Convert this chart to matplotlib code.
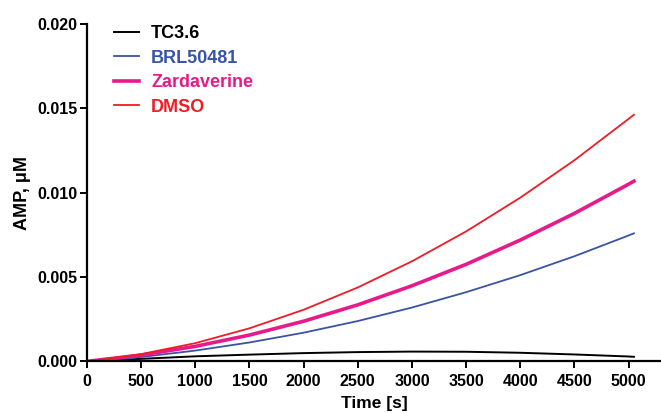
import numpy as np
import matplotlib.pyplot as plt

plt.rcParams['font.family'] = ['Liberation Sans', 'DejaVu Sans']
plt.rcParams['font.weight'] = 'bold'

# AMP production over time, one trace per compound
time_s = [0, 500, 1000, 1500, 2000, 2500, 3000, 3500, 4000, 4500, 5000, 5050]
tc36 = [0.0, 0.00015, 0.00030, 0.00040, 0.00049, 0.00055, 0.00058, 0.00057, 0.00051, 0.00041, 0.00029, 0.00027]
brl50481 = [0.0, 0.00026, 0.00064, 0.00112, 0.00170, 0.00239, 0.00319, 0.00410, 0.00511, 0.00623, 0.00746, 0.00759]
zardaverine = [0.0, 0.00037, 0.00089, 0.00156, 0.00238, 0.00335, 0.00448, 0.00575, 0.00719, 0.00877, 0.01050, 0.01068]
dmso = [0.0, 0.00043, 0.00108, 0.00196, 0.00306, 0.00438, 0.00593, 0.00770, 0.00970, 0.01192, 0.01437, 0.01462]

series = [
    ('TC3.6', tc36, 'black', 1.4),
    ('BRL50481', brl50481, '#3a54a4', 1.3),
    ('Zardaverine', zardaverine, '#e8198b', 2.6),
    ('DMSO', dmso, '#ee1c25', 1.3),
]

fig = plt.figure(figsize=(6.61, 4.13), dpi=100)
ax = fig.add_axes([0.1316, 0.125, 0.8684, 0.817])

for name, vals, col, lw in series:
    ax.plot(time_s, vals, color=col, lw=lw, label=name)

ax.set_xlim(0, 5300)
ax.set_ylim(0, 0.020)
ax.set_xticks(np.arange(0, 5001, 500))
ax.set_yticks([0, 0.005, 0.010, 0.015, 0.020])
ax.set_yticklabels(['0.000', '0.005', '0.010', '0.015', '0.020'])

for s in ['top', 'right']:
    ax.spines[s].set_visible(False)
for s in ['left', 'bottom']:
    ax.spines[s].set_linewidth(1.6)
ax.tick_params(direction='out', length=5, width=1.4, labelsize=11.5, pad=2)
ax.tick_params(axis='x', pad=4)

ax.set_xlabel('Time [s]', fontsize=12.5, fontweight='bold', labelpad=5)
ax.set_ylabel('AMP, μM', fontsize=13, fontweight='bold', labelpad=4)

leg = ax.legend(loc='upper left', bbox_to_anchor=(0.019, 1.045), frameon=False,
                fontsize=13, handlelength=1.35, handletextpad=0.7, labelspacing=0.42)
for txt, (_, _, col, _) in zip(leg.get_texts(), series):
    txt.set_color(col)

fig.savefig('out.png', dpi=100)
